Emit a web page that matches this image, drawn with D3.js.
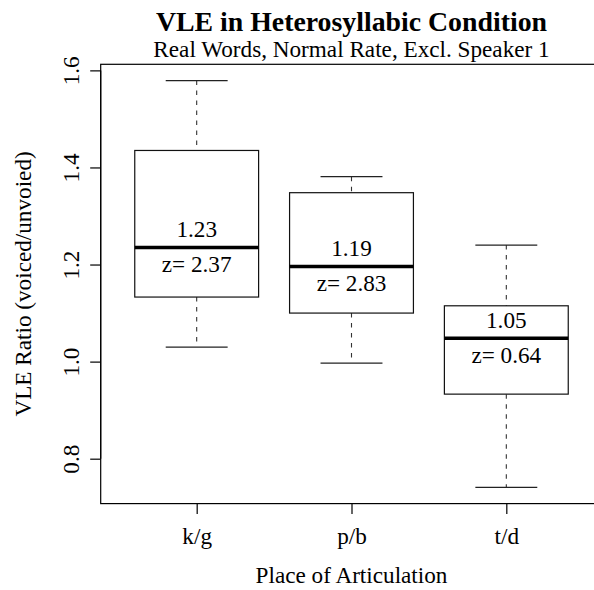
<!DOCTYPE html>
<html>
<head>
<meta charset="utf-8">
<script src="https://cdn.jsdelivr.net/npm/d3@7"></script>
<style>
  html, body { margin: 0; padding: 0; background: #fff; }
  svg { display: block; }
  text { font-family: "Liberation Serif", "Times New Roman", serif; fill: #000; }
</style>
</head>
<body>
<div id="chart"></div>
<script>
// ---- data ----
const categories = ["k/g", "p/b", "t/d"];
const whiskerLow  = [1.030, 0.997, 0.741];
const boxLow      = [1.133, 1.100, 0.933];
const medians     = [1.235, 1.196, 1.048];
const boxHigh     = [1.435, 1.348, 1.115];
const whiskerHigh = [1.579, 1.381, 1.240];
const medianLabels = ["1.23", "1.19", "1.05"];
const zLabels = ["z= 2.37", "z= 2.83", "z= 0.64"];
const yTicks = [0.8, 1.0, 1.2, 1.4, 1.6];
const titleText = "VLE in Heterosyllabic Condition";
const subtitleText = "Real Words, Normal Rate, Excl. Speaker 1";
const xLabel = "Place of Articulation";
const yLabel = "VLE Ratio (voiced/unvoied)";

// ---- layout ----
const W = 594, H = 590;
const plotLeft = 100.7, plotRight = 602.3, plotTop = 64.3, plotBottom = 503.6;

const svg = d3.select("#chart").append("svg")
  .attr("width", W).attr("height", H);

const lo = d3.min(whiskerLow), hi = d3.max(whiskerHigh);
const pad = (hi - lo) * 0.04;
const y = d3.scaleLinear().domain([lo - pad, hi + pad]).range([plotBottom, plotTop]);
const nCat = categories.length;
const xPad = nCat * 0.04;
const x = d3.scaleLinear().domain([0.5 - xPad, nCat + 0.5 + xPad]).range([plotLeft, plotRight]);

// plot frame
svg.append("rect")
  .attr("x", plotLeft).attr("y", plotTop)
  .attr("width", plotRight - plotLeft).attr("height", plotBottom - plotTop)
  .attr("fill", "none").attr("stroke", "#000").attr("stroke-width", 1.2);

// y axis
const yAxis = d3.axisLeft(y).tickValues(yTicks).tickFormat(d3.format(".1f")).tickSize(10.5).tickSizeOuter(0);
const gy = svg.append("g").attr("transform", `translate(${plotLeft},0)`).call(yAxis);
gy.select(".domain").attr("d", `M0,${y(yTicks[0])}V${y(yTicks[yTicks.length-1])}`).attr("stroke", "#000").attr("stroke-width", 1.2);
gy.selectAll(".tick line").attr("stroke", "#000").attr("stroke-width", 1.2);
gy.selectAll(".tick text")
  .attr("x", null).attr("dy", null)
  .attr("transform", "translate(-22,0) rotate(-90)")
  .attr("text-anchor", "middle")
  .style("font-family", '"Liberation Serif", serif')
  .style("font-size", "23.2px")
  .attr("fill", "#000");

// x axis
const xAxis = d3.axisBottom(x).tickValues(d3.range(1, nCat + 1))
  .tickFormat((d) => categories[d - 1]).tickSize(10.5).tickSizeOuter(0);
const gx = svg.append("g").attr("transform", `translate(0,${plotBottom})`).call(xAxis);
gx.select(".domain").remove();
gx.selectAll(".tick line").attr("stroke", "#000").attr("stroke-width", 1.2);
gx.selectAll(".tick text")
  .attr("y", 40.5).attr("dy", null)
  .style("font-family", '"Liberation Serif", serif')
  .style("font-size", "23.2px")
  .attr("fill", "#000");

// boxes
const boxHalf = 0.4, stapleHalf = 0.2;
categories.forEach((c, i) => {
  const cx = x(i + 1);
  const g = svg.append("g");
  // whiskers
  g.append("line").attr("x1", cx).attr("x2", cx)
    .attr("y1", y(whiskerHigh[i])).attr("y2", y(boxHigh[i]))
    .attr("stroke", "#333").attr("stroke-width", 1.1).attr("stroke-dasharray", "4.5,5.5");
  g.append("line").attr("x1", cx).attr("x2", cx)
    .attr("y1", y(boxLow[i])).attr("y2", y(whiskerLow[i]))
    .attr("stroke", "#333").attr("stroke-width", 1.1).attr("stroke-dasharray", "4.5,5.5");
  // staples
  [whiskerHigh[i], whiskerLow[i]].forEach((v) => {
    g.append("line")
      .attr("x1", x(i + 1 - stapleHalf)).attr("x2", x(i + 1 + stapleHalf))
      .attr("y1", y(v)).attr("y2", y(v))
      .attr("stroke", "#222").attr("stroke-width", 1.2);
  });
  // box
  g.append("rect")
    .attr("x", x(i + 1 - boxHalf)).attr("y", y(boxHigh[i]))
    .attr("width", x(i + 1 + boxHalf) - x(i + 1 - boxHalf))
    .attr("height", y(boxLow[i]) - y(boxHigh[i]))
    .attr("fill", "#fff").attr("stroke", "#111").attr("stroke-width", 1.2);
  // median
  g.append("line")
    .attr("x1", x(i + 1 - boxHalf)).attr("x2", x(i + 1 + boxHalf))
    .attr("y1", y(medians[i])).attr("y2", y(medians[i]))
    .attr("stroke", "#000").attr("stroke-width", 3.6);
  // labels
  g.append("text").attr("x", cx).attr("y", y(medians[i]) - 10.5)
    .attr("text-anchor", "middle").style("font-size", "23.2px").text(medianLabels[i]);
  g.append("text").attr("x", cx).attr("y", y(medians[i]) + 24.5)
    .attr("text-anchor", "middle").style("font-size", "23.2px").text(zLabels[i]);
});

// titles
const midX = (plotLeft + plotRight) / 2;
svg.append("text").attr("x", midX).attr("y", 30.7).attr("text-anchor", "middle")
  .style("font-size", "27.8px").style("font-weight", "bold").text(titleText);
svg.append("text").attr("x", midX).attr("y", 57.3).attr("text-anchor", "middle")
  .style("font-size", "23.2px").text(subtitleText);
svg.append("text").attr("x", midX).attr("y", 583).attr("text-anchor", "middle")
  .style("font-size", "23.2px").text(xLabel);
svg.append("text")
  .attr("transform", `translate(31,${(plotTop + plotBottom) / 2}) rotate(-90)`)
  .attr("text-anchor", "middle")
  .style("font-size", "23.2px").text(yLabel);
</script>
</body>
</html>
